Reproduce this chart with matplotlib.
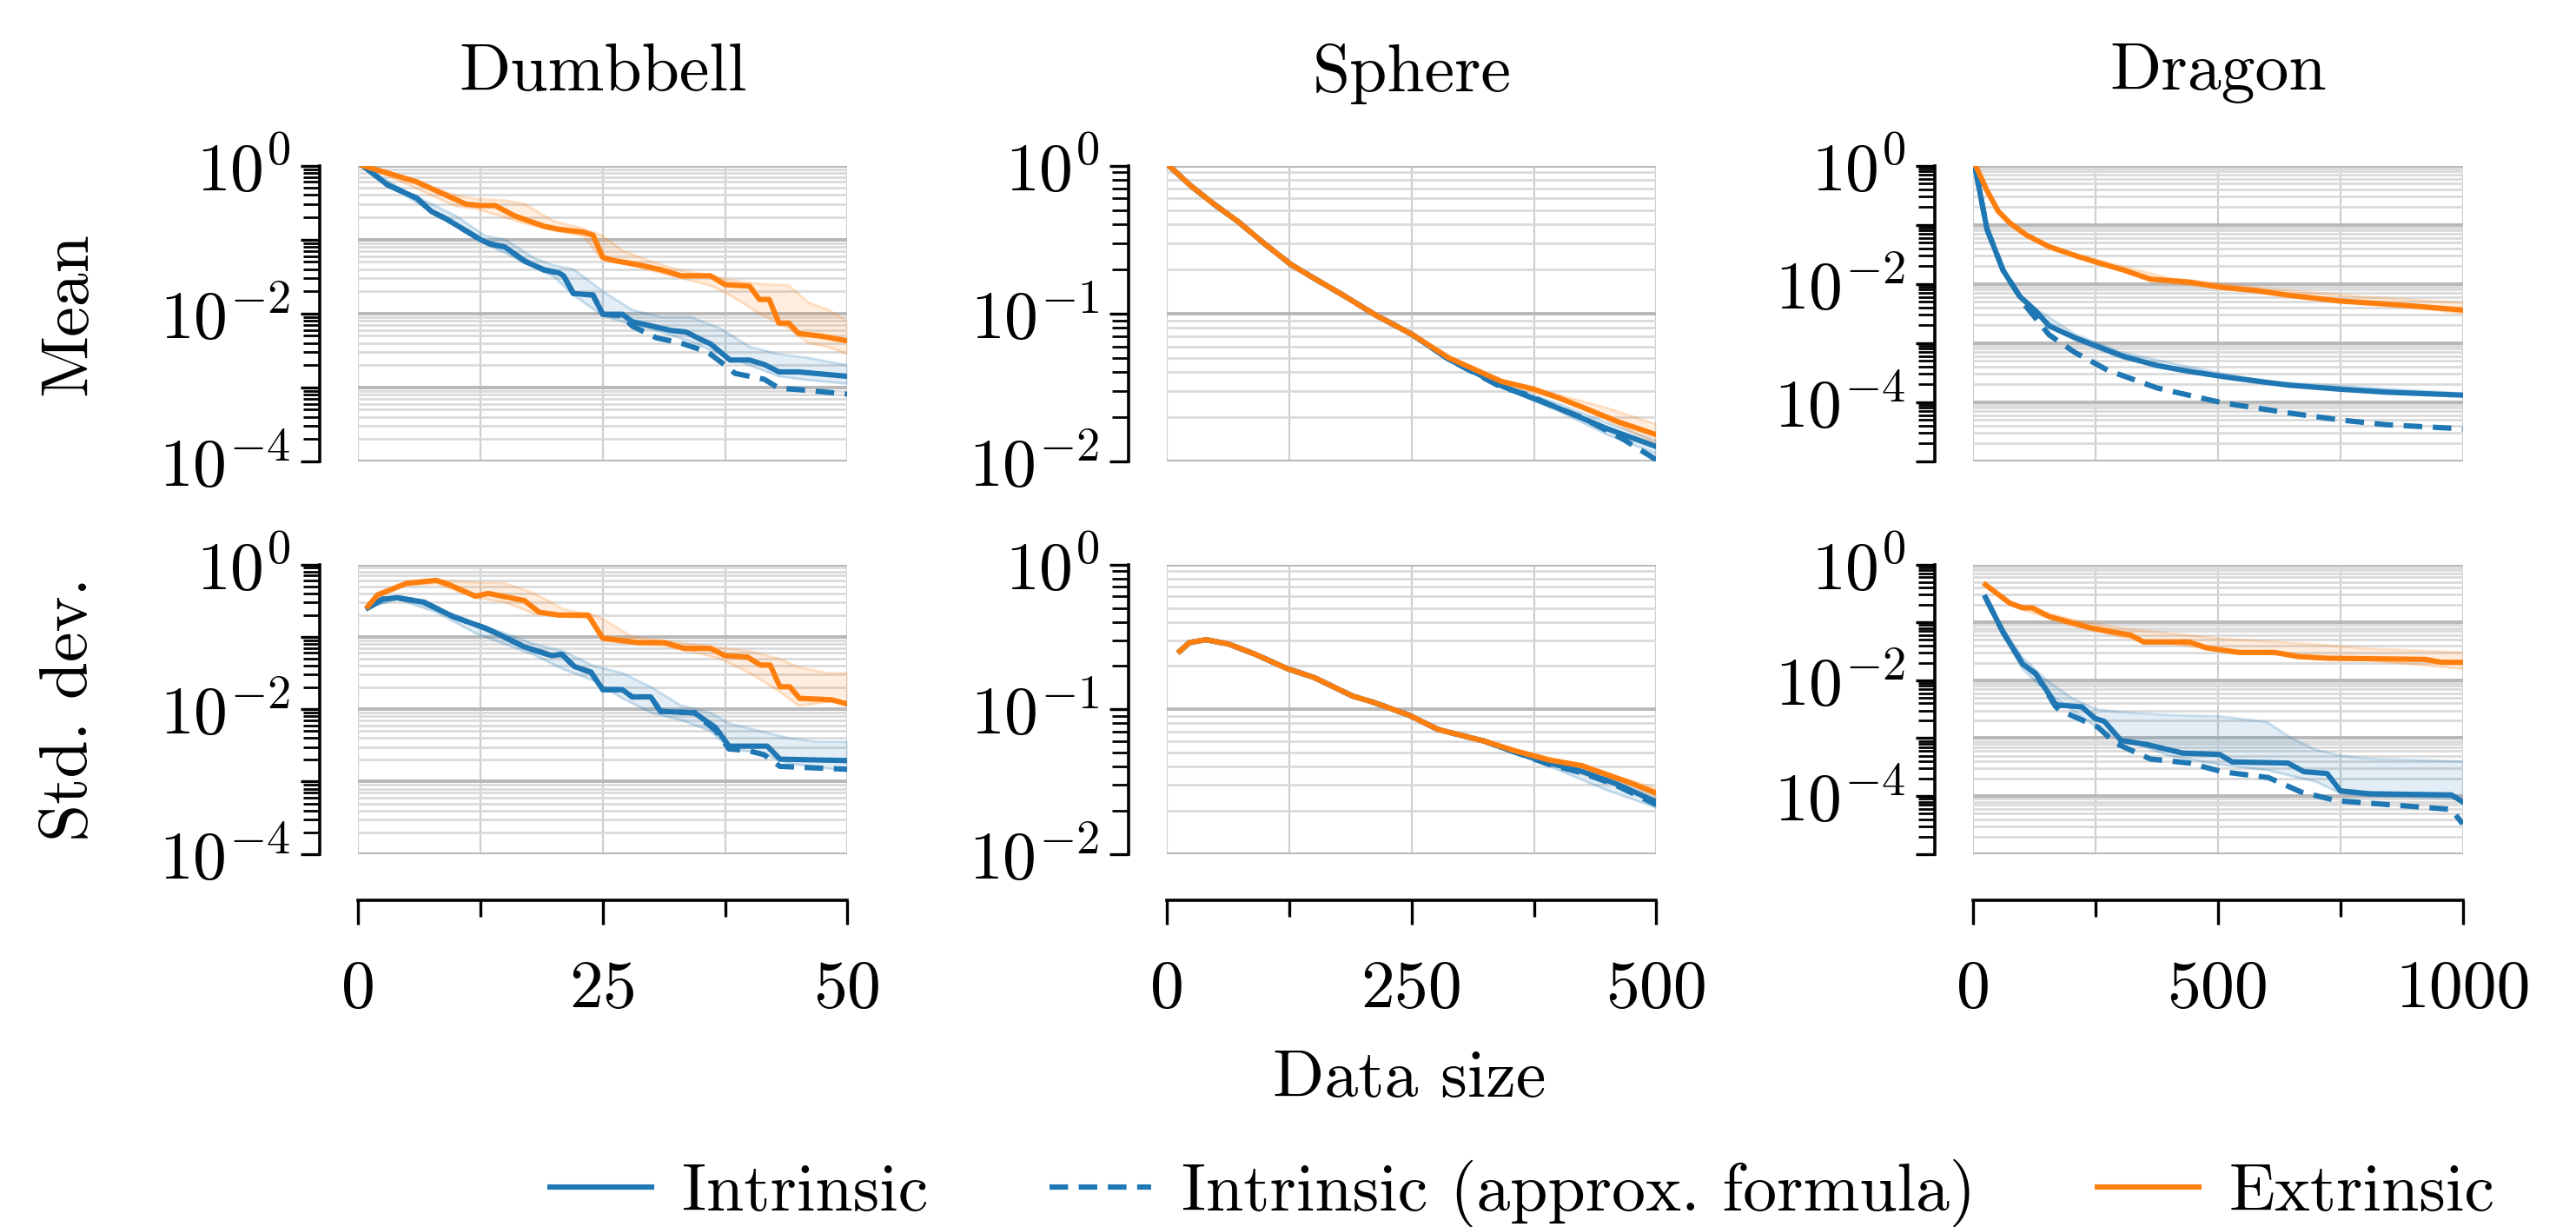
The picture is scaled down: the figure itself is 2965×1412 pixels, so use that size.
import numpy as np
import matplotlib.pyplot as plt
from matplotlib.ticker import FixedLocator, FuncFormatter, LogLocator, NullFormatter
from matplotlib.lines import Line2D

plt.rcParams['font.family'] = 'cmr10'
plt.rcParams['mathtext.fontset'] = 'cm'
plt.rcParams['axes.formatter.use_mathtext'] = True
plt.rcParams['font.size'] = 28

BLUE = '#1f77b4'
ORANGE = '#ff7f0e'

# values are log10 of the error
# ---- Dumbbell, mean
db_mean_ext_x = [0.5, 6, 11, 12.5, 14, 16, 19, 20.5, 23, 24, 25, 26, 29, 31, 33, 36, 37.5, 40, 41, 42, 43, 44, 45, 47.5, 50]
db_mean_ext_y = [0, -0.22, -0.52, -0.54, -0.54, -0.68, -0.82, -0.86, -0.90, -0.94, -1.24, -1.28, -1.35, -1.41, -1.49, -1.49, -1.61, -1.63, -1.81, -1.81, -2.13, -2.13, -2.27, -2.31, -2.37]
db_mean_int_x = [0.5, 3, 6, 7.5, 9, 11, 12.5, 13.5, 15, 17, 19, 20.5, 21, 22, 24, 25, 27, 28, 30, 32, 33.5, 35, 36, 38, 40, 41.5, 43, 45, 50]
db_mean_int_y = [0, -0.26, -0.44, -0.62, -0.72, -0.88, -1.0, -1.06, -1.10, -1.29, -1.41, -1.45, -1.49, -1.73, -1.75, -2.01, -2.01, -2.11, -2.17, -2.23, -2.25, -2.35, -2.41, -2.63, -2.63, -2.69, -2.79, -2.79, -2.85]
db_mean_app_x = [0.5, 3, 6, 7.5, 9, 11, 12.5, 13.5, 15, 17, 19, 20.5, 21, 22, 24, 25, 27, 28, 30.5, 33, 35, 36, 38, 38.5, 41.5, 43, 45, 50]
db_mean_app_y = [0, -0.26, -0.44, -0.62, -0.72, -0.88, -1.0, -1.06, -1.10, -1.29, -1.41, -1.45, -1.49, -1.73, -1.75, -2.01, -2.03, -2.17, -2.33, -2.40, -2.49, -2.55, -2.75, -2.81, -2.89, -3.01, -3.03, -3.09]
db_mean_ext_band_x = [0.5, 5, 10, 12, 15, 17, 20, 23, 25, 27, 30, 33, 36, 38, 41, 44, 46, 48, 50]
db_mean_ext_band_hi = [0, -0.18, -0.40, -0.45, -0.47, -0.52, -0.75, -0.85, -0.95, -1.15, -1.30, -1.42, -1.48, -1.55, -1.60, -1.62, -1.85, -1.95, -2.1]
db_mean_ext_band_lo = [0, -0.25, -0.55, -0.58, -0.70, -0.78, -0.88, -0.95, -1.28, -1.32, -1.42, -1.52, -1.62, -1.75, -2.0, -2.2, -2.4, -2.45, -2.55]
db_mean_int_band_x = [0.5, 5, 8, 10, 13, 15, 18, 20, 22, 25, 28, 31, 34, 37, 40, 43, 46, 50]
db_mean_int_band_hi = [0, -0.36, -0.55, -0.68, -0.95, -1.00, -1.25, -1.35, -1.40, -1.70, -1.95, -2.05, -2.05, -2.2, -2.45, -2.55, -2.6, -2.7]
db_mean_int_band_lo = [0, -0.42, -0.66, -0.80, -1.06, -1.18, -1.38, -1.5, -1.75, -2.03, -2.15, -2.25, -2.38, -2.55, -2.7, -2.85, -2.9, -2.95]

# ---- Dumbbell, std. dev.
db_std_ext_x = [1, 2, 5, 8, 9.3, 12, 13.3, 17, 18.5, 20.5, 23.5, 25, 28.7, 31.3, 33.3, 36, 37.5, 39.8, 41.1, 42.1, 43.1, 44.1, 45.1, 48.4, 50]
db_std_ext_y = [-0.58, -0.42, -0.26, -0.22, -0.28, -0.44, -0.40, -0.50, -0.66, -0.70, -0.70, -1.02, -1.08, -1.08, -1.16, -1.16, -1.26, -1.28, -1.39, -1.39, -1.69, -1.69, -1.85, -1.87, -1.93]
db_std_int_x = [1, 2.5, 4, 6.7, 9.7, 13, 14.6, 17, 19.8, 20.8, 22.1, 23.8, 25, 27, 28, 29.9, 30.9, 34.4, 35.2, 36.5, 37.9, 41.8, 43.1, 50]
db_std_int_y = [-0.60, -0.48, -0.46, -0.52, -0.72, -0.88, -0.98, -1.14, -1.26, -1.24, -1.41, -1.49, -1.73, -1.73, -1.83, -1.83, -2.03, -2.05, -2.13, -2.25, -2.51, -2.51, -2.69, -2.71]
db_std_app_x = [1, 2.5, 4, 6.7, 9.7, 13, 14.6, 17, 19.8, 20.8, 22.1, 23.8, 25, 27, 28, 29.9, 30.9, 34.4, 35.2, 36.5, 37.9, 39.8, 41.5, 43.1, 50]
db_std_app_y = [-0.60, -0.48, -0.46, -0.52, -0.72, -0.88, -0.98, -1.14, -1.26, -1.24, -1.41, -1.49, -1.73, -1.73, -1.83, -1.83, -2.03, -2.05, -2.15, -2.29, -2.55, -2.57, -2.63, -2.79, -2.83]
db_std_ext_band_x = [1, 4, 8, 12, 15, 18, 21, 24, 25, 28, 31, 34, 37, 40, 43, 45, 48, 50]
db_std_ext_band_hi = [-0.58, -0.28, -0.22, -0.25, -0.26, -0.40, -0.62, -0.70, -0.75, -1.0, -1.05, -1.1, -1.15, -1.2, -1.3, -1.42, -1.5, -1.5]
db_std_ext_band_lo = [-0.58, -0.30, -0.26, -0.46, -0.52, -0.68, -0.72, -0.75, -1.05, -1.1, -1.12, -1.2, -1.3, -1.5, -1.75, -1.95, -1.9, -1.9]
db_std_int_band_x = [1, 4, 8, 12, 15, 18, 21, 24, 27, 30, 33, 36, 38, 41, 44, 47, 50]
db_std_int_band_hi = [-0.6, -0.46, -0.62, -0.82, -0.95, -1.1, -1.2, -1.4, -1.5, -1.7, -1.95, -2.05, -2.2, -2.3, -2.4, -2.45, -2.45]
db_std_int_band_lo = [-0.6, -0.48, -0.66, -0.95, -1.1, -1.25, -1.45, -1.6, -1.85, -2.05, -2.15, -2.3, -2.55, -2.6, -2.75, -2.8, -2.85]

# ---- Sphere, mean
sp_mean_ext_x = [2, 25, 50, 73, 100, 127, 155, 181, 213, 250, 288, 315, 342, 374, 400, 423, 460, 500]
sp_mean_ext_y = [0, -0.14, -0.27, -0.38, -0.53, -0.67, -0.78, -0.88, -1.01, -1.14, -1.30, -1.38, -1.46, -1.51, -1.57, -1.63, -1.73, -1.82]
sp_mean_int_x = [2, 25, 50, 73, 100, 127, 155, 181, 213, 250, 288, 342, 396, 450, 500]
sp_mean_int_y = [0, -0.14, -0.27, -0.38, -0.53, -0.67, -0.78, -0.88, -1.01, -1.14, -1.31, -1.49, -1.63, -1.78, -1.90]
sp_mean_app_x = [2, 25, 50, 73, 100, 127, 155, 181, 213, 250, 288, 342, 369, 396, 423, 466, 500]
sp_mean_app_y = [0, -0.14, -0.27, -0.38, -0.53, -0.67, -0.78, -0.88, -1.01, -1.14, -1.31, -1.50, -1.55, -1.63, -1.70, -1.85, -1.99]
sp_mean_ext_band_x = [342, 400, 450, 500]
sp_mean_ext_band_hi = [-1.45, -1.55, -1.64, -1.75]
sp_mean_ext_band_lo = [-1.47, -1.58, -1.72, -1.88]
sp_mean_int_band_x = [342, 400, 450, 500]
sp_mean_int_band_hi = [-1.48, -1.61, -1.74, -1.86]
sp_mean_int_band_lo = [-1.50, -1.66, -1.82, -1.95]

# ---- Sphere, std. dev.
sp_std_ext_x = [13, 23, 40, 63, 90, 123, 150, 190, 210, 247, 277, 324, 357, 390, 424, 457, 474, 500]
sp_std_ext_y = [-0.60, -0.54, -0.52, -0.55, -0.62, -0.72, -0.78, -0.91, -0.95, -1.04, -1.14, -1.22, -1.29, -1.35, -1.39, -1.47, -1.51, -1.58]
sp_std_int_x = [13, 23, 40, 63, 90, 123, 150, 190, 210, 247, 277, 324, 357, 390, 424, 457, 500]
sp_std_int_y = [-0.60, -0.54, -0.52, -0.55, -0.62, -0.72, -0.78, -0.91, -0.95, -1.04, -1.14, -1.22, -1.30, -1.37, -1.43, -1.51, -1.64]
sp_std_app_x = [13, 23, 40, 63, 90, 123, 150, 190, 210, 247, 277, 324, 357, 390, 424, 457, 500]
sp_std_app_y = [-0.60, -0.54, -0.52, -0.55, -0.62, -0.72, -0.78, -0.91, -0.95, -1.04, -1.14, -1.22, -1.30, -1.38, -1.44, -1.52, -1.66]
sp_std_ext_band_x = [357, 400, 450, 500]
sp_std_ext_band_hi = [-1.28, -1.35, -1.44, -1.55]
sp_std_ext_band_lo = [-1.30, -1.40, -1.50, -1.62]
sp_std_int_band_x = [357, 400, 450, 500]
sp_std_int_band_hi = [-1.29, -1.37, -1.48, -1.60]
sp_std_int_band_lo = [-1.31, -1.42, -1.56, -1.68]

# ---- Dragon, mean
dr_mean_ext_x = [5, 28, 51, 75, 108, 155, 208, 255, 309, 362, 442, 509, 576, 643, 750, 843, 923, 1000]
dr_mean_ext_y = [0, -0.42, -0.77, -0.97, -1.17, -1.37, -1.52, -1.64, -1.77, -1.92, -1.97, -2.06, -2.11, -2.19, -2.29, -2.34, -2.39, -2.44]
dr_mean_int_x = [5, 28, 61, 95, 128, 155, 208, 255, 309, 376, 442, 522, 643, 750, 843, 1000]
dr_mean_int_y = [-0.07, -1.07, -1.77, -2.21, -2.46, -2.71, -2.91, -3.06, -3.23, -3.38, -3.48, -3.58, -3.71, -3.78, -3.83, -3.88]
dr_mean_app_x = [5, 28, 61, 95, 101, 155, 208, 275, 376, 509, 643, 750, 843, 1000]
dr_mean_app_y = [-0.07, -1.07, -1.77, -2.21, -2.31, -2.86, -3.16, -3.46, -3.76, -4.01, -4.18, -4.30, -4.38, -4.45]
dr_mean_ext_band_x = [208, 400, 600, 800, 1000]
dr_mean_ext_band_hi = [-1.50, -1.90, -2.08, -2.22, -2.32]
dr_mean_ext_band_lo = [-1.54, -1.98, -2.15, -2.30, -2.50]
dr_mean_int_band_x = [128, 208, 300, 400, 500, 600, 1000]
dr_mean_int_band_hi = [-2.42, -2.85, -3.15, -3.33, -3.50, -3.65, -3.85]
dr_mean_int_band_lo = [-2.50, -2.95, -3.25, -3.42, -3.58, -3.70, -3.90]

# ---- Dragon, std. dev.
dr_std_ext_x = [25, 75, 101, 121, 155, 242, 322, 348, 442, 476, 543, 616, 663, 723, 923, 957, 1000]
dr_std_ext_y = [-0.35, -0.67, -0.75, -0.75, -0.90, -1.10, -1.22, -1.34, -1.34, -1.44, -1.52, -1.52, -1.59, -1.62, -1.64, -1.69, -1.69]
dr_std_int_x = [25, 61, 101, 128, 168, 175, 222, 249, 268, 302, 355, 429, 503, 529, 643, 676, 723, 750, 810, 977, 1000]
dr_std_int_y = [-0.57, -1.17, -1.72, -1.89, -2.41, -2.43, -2.46, -2.66, -2.71, -3.04, -3.11, -3.26, -3.28, -3.41, -3.43, -3.58, -3.61, -3.91, -3.96, -3.98, -4.10]
dr_std_app_x = [25, 61, 101, 128, 168, 175, 255, 289, 315, 362, 442, 509, 603, 670, 743, 977, 1000]
dr_std_app_y = [-0.57, -1.17, -1.72, -1.89, -2.45, -2.51, -2.81, -3.08, -3.18, -3.36, -3.43, -3.58, -3.68, -3.93, -4.08, -4.23, -4.48]
dr_std_ext_band_x = [75, 100, 200, 300, 500, 700, 800, 1000]
dr_std_ext_band_hi = [-0.65, -0.72, -0.95, -1.10, -1.28, -1.38, -1.45, -1.52]
dr_std_ext_band_lo = [-0.69, -0.78, -1.05, -1.25, -1.48, -1.60, -1.65, -1.80]
dr_std_int_band_x = [25, 60, 100, 150, 200, 250, 300, 400, 500, 600, 650, 700, 750, 800, 1000]
dr_std_int_band_hi = [-0.57, -1.10, -1.60, -2.00, -2.30, -2.50, -2.55, -2.60, -2.62, -2.72, -3.00, -3.20, -3.30, -3.35, -3.40]
dr_std_int_band_lo = [-0.57, -1.20, -1.80, -2.20, -2.50, -2.80, -3.00, -3.30, -3.45, -3.55, -3.65, -3.75, -3.95, -4.00, -4.05]

titles = ['Dumbbell', 'Sphere', 'Dragon']
row_labels = ['Mean', 'Std. dev.']
x_max = [50, 500, 1000]
y_min_exp = [-4, -2, -5]
y_label_exps = [[0, -2, -4], [0, -1, -2], [0, -2, -4]]
x_tick_labels = [[0, 25, 50], [0, 250, 500], [0, 500, 1000]]

panels = {
    (0, 0): (db_mean_int_x, db_mean_int_y, db_mean_app_x, db_mean_app_y, db_mean_ext_x, db_mean_ext_y,
             db_mean_int_band_x, db_mean_int_band_lo, db_mean_int_band_hi,
             db_mean_ext_band_x, db_mean_ext_band_lo, db_mean_ext_band_hi),
    (1, 0): (db_std_int_x, db_std_int_y, db_std_app_x, db_std_app_y, db_std_ext_x, db_std_ext_y,
             db_std_int_band_x, db_std_int_band_lo, db_std_int_band_hi,
             db_std_ext_band_x, db_std_ext_band_lo, db_std_ext_band_hi),
    (0, 1): (sp_mean_int_x, sp_mean_int_y, sp_mean_app_x, sp_mean_app_y, sp_mean_ext_x, sp_mean_ext_y,
             sp_mean_int_band_x, sp_mean_int_band_lo, sp_mean_int_band_hi,
             sp_mean_ext_band_x, sp_mean_ext_band_lo, sp_mean_ext_band_hi),
    (1, 1): (sp_std_int_x, sp_std_int_y, sp_std_app_x, sp_std_app_y, sp_std_ext_x, sp_std_ext_y,
             sp_std_int_band_x, sp_std_int_band_lo, sp_std_int_band_hi,
             sp_std_ext_band_x, sp_std_ext_band_lo, sp_std_ext_band_hi),
    (0, 2): (dr_mean_int_x, dr_mean_int_y, dr_mean_app_x, dr_mean_app_y, dr_mean_ext_x, dr_mean_ext_y,
             dr_mean_int_band_x, dr_mean_int_band_lo, dr_mean_int_band_hi,
             dr_mean_ext_band_x, dr_mean_ext_band_lo, dr_mean_ext_band_hi),
    (1, 2): (dr_std_int_x, dr_std_int_y, dr_std_app_x, dr_std_app_y, dr_std_ext_x, dr_std_ext_y,
             dr_std_int_band_x, dr_std_int_band_lo, dr_std_int_band_hi,
             dr_std_ext_band_x, dr_std_ext_band_lo, dr_std_ext_band_hi),
}

fig = plt.figure(figsize=(14.825, 7.06), dpi=200)
lefts = [0.139, 0.453, 0.766]
width = 0.19
rows = [(0.624, 0.241), (0.304, 0.236)]

def p(v):
    return 10.0 ** np.array(v)

for (r, c), d in panels.items():
    b, h = rows[r]
    ax = fig.add_axes([lefts[c], b, width, h])
    ix, iy, ax_, ay, ex, ey, ibx, ibl, ibh, ebx, ebl, ebh = d

    ax.fill_between(ibx, p(ibl), p(ibh), color=BLUE, alpha=0.13, lw=0)
    ax.plot(ibx, p(ibh), color=BLUE, alpha=0.22, lw=1)
    ax.plot(ibx, p(ibl), color=BLUE, alpha=0.22, lw=1)
    ax.fill_between(ebx, p(ebl), p(ebh), color=ORANGE, alpha=0.13, lw=0)
    ax.plot(ebx, p(ebh), color=ORANGE, alpha=0.22, lw=1)
    ax.plot(ebx, p(ebl), color=ORANGE, alpha=0.22, lw=1)

    ax.plot(ax_, p(ay), color=BLUE, lw=2.2, ls=(0, (3.5, 2)))
    ax.plot(ix, p(iy), color=BLUE, lw=2.2)
    ax.plot(ex, p(ey), color=ORANGE, lw=2.2)

    ax.set_yscale('log')
    ax.set_ylim(10.0 ** y_min_exp[c], 1)
    ax.set_xlim(0, x_max[c])

    decades = [10.0 ** k for k in range(y_min_exp[c], 1)]
    ax.yaxis.set_major_locator(FixedLocator(decades))
    labs = y_label_exps[c]
    ax.yaxis.set_major_formatter(FuncFormatter(
        lambda v, pos, labs=labs: '$10^{%d}$' % int(round(np.log10(v))) if int(round(np.log10(v))) in labs else ''))
    ax.yaxis.set_minor_locator(LogLocator(base=10, subs=np.arange(2, 10), numticks=50))
    ax.yaxis.set_minor_formatter(NullFormatter())

    xm = x_max[c]
    ax.xaxis.set_major_locator(FixedLocator(x_tick_labels[c]))
    ax.xaxis.set_minor_locator(FixedLocator([xm / 4, 3 * xm / 4]))
    ax.xaxis.set_major_formatter(FuncFormatter(lambda v, pos: '%d' % v))

    ax.grid(True, which='major', axis='y', color='#b8b8b8', lw=1.4)
    ax.grid(True, which='minor', axis='y', color='#dadada', lw=1.0)
    ax.grid(True, which='both', axis='x', color='#cfcfcf', lw=0.8)
    ax.set_axisbelow(True)

    for s in ['top', 'right']:
        ax.spines[s].set_visible(False)
    ax.spines['left'].set_position(('outward', 16))
    ax.spines['left'].set_linewidth(1.3)
    ax.tick_params(axis='y', which='major', length=8, width=1.2, pad=4)
    ax.tick_params(axis='y', which='minor', length=7, width=1.0)

    if r == 0:
        ax.spines['bottom'].set_visible(False)
        ax.tick_params(axis='x', which='both', bottom=False, labelbottom=False)
        fig.text(lefts[c] + width / 2, 0.94, titles[c], ha='center', va='center')
    else:
        ax.spines['bottom'].set_position(('outward', 19))
        ax.spines['bottom'].set_linewidth(1.3)
        ax.tick_params(axis='x', which='major', length=10, width=1.2, pad=15)
        ax.tick_params(axis='x', which='minor', length=7, width=1.2)

for r, lab in enumerate(row_labels):
    b, h = rows[r]
    fig.text(0.027, b + h / 2, lab, rotation=90, ha='center', va='center')

fig.text(0.547, 0.12, 'Data size', ha='center', va='center')

handles = [Line2D([], [], color=BLUE, lw=2.2),
           Line2D([], [], color=BLUE, lw=2.2, ls=(0, (3.5, 2))),
           Line2D([], [], color=ORANGE, lw=2.2)]
fig.legend(handles, ['Intrinsic', 'Intrinsic (approx. formula)', 'Extrinsic'],
           loc='center', bbox_to_anchor=(0.591, 0.027), ncol=3, frameon=False,
           handlelength=1.5, handletextpad=0.45, columnspacing=1.8)

fig.savefig('out.png', dpi=200, facecolor='white')
